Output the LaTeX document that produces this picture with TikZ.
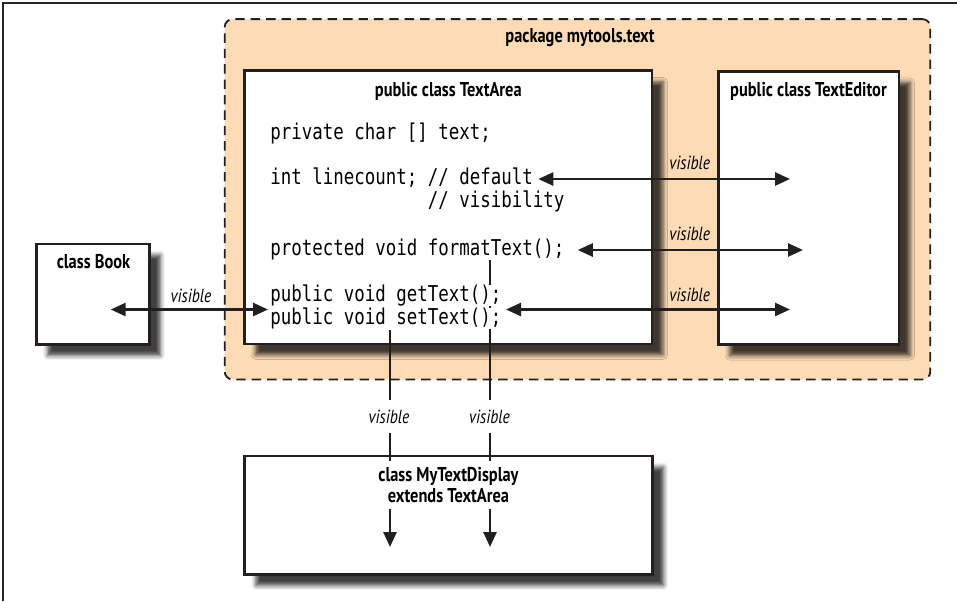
\documentclass[tikz,border=0pt]{standalone}
\usepackage{fontspec}
\setmainfont{PT Sans}
\newfontfamily\headfont{PT Sans}[FakeStretch=0.82]
\newfontfamily\codefont{DejaVu Sans Mono}[FakeStretch=0.8]
\usepackage{tikz}
\usetikzlibrary{
  arrows.meta,
  positioning,
  shadows.blur,
  backgrounds
}
\definecolor{pkgpeach}{RGB}{253,219,180}
\definecolor{inkgray}{RGB}{35,31,32}
\pgfdeclarelayer{wires}
\pgfsetlayers{background,wires,main}

\begin{document}
\begin{tikzpicture}[x=0.5pt, y=-0.5pt,
  pkgbox/.style={draw=gray!25!black, line width=0.9pt, dash pattern=on 4.7pt off 3pt,
    rounded corners=4pt, fill=pkgpeach},
  classbox/.style={draw=inkgray, line width=1.35pt, fill=white,
    blur shadow={shadow xshift=5.5pt, shadow yshift=-5.5pt, shadow blur radius=2.2pt, shadow opacity=75}},
  title/.style={font={\headfont\bfseries\fontsize{10}{10.35}\selectfont}, inner sep=0pt},
  code/.style={font={\codefont\fontsize{10.9}{12}\selectfont}, anchor=base west, inner sep=0pt, fill=white},
  vislabel/.style={font={\headfont\itshape\fontsize{9.5}{10.35}\selectfont}, inner sep=1pt},
  wire/.style={draw=inkgray, line width=1.3pt},
  >={Triangle[length=7.5pt, width=6.5pt]}]
  \useasboundingbox (0,0) rectangle (957,601);

  % Page frame (top and left edges only)
  \draw[line width=0.8pt, gray!30!black] (957,3) -- (3,3) -- (3,601);

  % Boxes
  \begin{pgfonlayer}{background}
    \node[pkgbox, minimum width=352.8pt, minimum height=180.2pt] (pkg) at (577.5,199.3) {};
    \node[classbox, minimum width=203.75pt, minimum height=136.6pt] (area) at (448.3,207.3) {};
    \node[classbox, minimum width=90.2pt, minimum height=136.7pt] (editor) at (808.8,208) {};
    \node[classbox, minimum width=56.5pt, minimum height=50.3pt] (book) at (93,294.3) {};
    \node[classbox, minimum width=204pt, minimum height=59.3pt] (display) at (448.7,515.3) {};
  \end{pgfonlayer}

  % Titles
  \node[title, anchor=base] (pkgname) at (580,42) {package mytools.text};
  \node[title, anchor=base] (areaname) at (448.3,96.5) {public class TextArea};
  \node[title, anchor=base] (editorname) at (808.5,96) {public class TextEditor};
  \node[title, anchor=base] (bookname) at (93.5,268.3) {class Book};
  \node[title, fill=white, inner sep=3pt, align=center] (displayname) at (448.5,485)
    {class MyTextDisplay\\extends TextArea};

  % Members of TextArea
  \node[code] (priv) at (270,139) {private char [] text;};
  \node[code] (lcount) at (270,184) {int linecount; // default};
  \node[code] (lvis) at (427.5,207) {// visibility};
  \node[code] (fmt) at (270,255) {protected void formatText();};
  \node[code] (getT) at (270,301.5) {public void getText();};
  \node[code] (setT) at (270,324.5) {public void setText();};

  % Wire ends
  \coordinate (edgeR) at (790,0);
  \coordinate (pairR) at (506,309.5);
  \coordinate (pairL) at (268,309.5);
  \coordinate (bookin) at (110.7,309.5);
  \coordinate (dropL) at (390,330);
  \coordinate (dropR) at (490,258);
  \coordinate (landL) at (390,547);
  \coordinate (landR) at (490,547);

  % Visibility arrows
  \begin{pgfonlayer}{wires}
    \draw[wire, <->] ([xshift=2.5pt]lcount.mid east) -- (lcount.mid east -| edgeR);
    \draw[wire, <->] ([xshift=6.5pt]fmt.mid east) -- ([xshift=6.5pt]fmt.mid east -| edgeR);
    \draw[wire, <->] (pairR) -- (pairR -| edgeR);
    \draw[wire, <->] (bookin) -- (pairL);
    \draw[wire, ->] (dropL) -- (landL);
    \draw[wire, ->] (dropR) -- (landR);
  \end{pgfonlayer}

  % Labels
  \node[vislabel] (visA) at (689.7,163.3) {visible};
  \node[vislabel] (visB) at (689.7,234) {visible};
  \node[vislabel] (visC) at (689.7,294.5) {visible};
  \node[vislabel] (visD) at (191,296) {visible};
  \node[vislabel, fill=white, inner ysep=5pt] (visE) at (389,416.5) {visible};
  \node[vislabel, fill=white, inner ysep=5pt] (visF) at (489.5,416.5) {visible};
\end{tikzpicture}
\end{document}
